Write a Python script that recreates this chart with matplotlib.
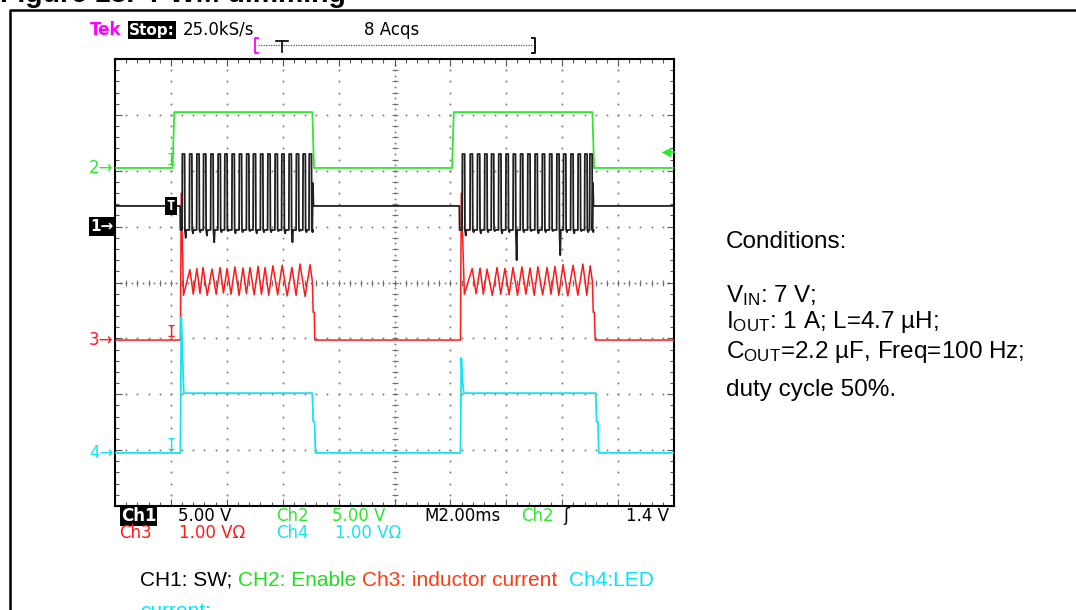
import numpy as np
import matplotlib
matplotlib.use('Agg')
import matplotlib.pyplot as plt
from matplotlib.ticker import MultipleLocator

# ---------------- data (time in ms, values in channel units) ----------------
ms_per_div = 2.0
# channel scale (units/div) and ground position (div from bottom)
ch1_scale, ch1_gnd = 5.0, 5.0     # SW, volts
ch2_scale, ch2_gnd = 5.0, 6.05    # Enable, volts
ch3_scale, ch3_gnd = 1.0, 2.97    # inductor current, A
ch4_scale, ch4_gnd = 1.0, 0.95    # LED current, A

trig_t = 2.0          # ms
trig_level = 1.4      # V on Ch2

# CH2: enable
ch2_t = [0.0, 2.06, 2.12, 7.06, 7.12, 12.06, 12.12, 17.08, 17.14, 20.0]
ch2_v = [0.0, 0.0, 5.0, 5.0, 0.0, 0.0, 5.0, 5.0, 0.0, 0.0]

# CH1: switch node
ch1_idle = 1.85
ch1_high = 6.5
ch1_low = -0.3
burst1_start, burst1_end = 2.33, 7.08
burst2_start, burst2_end = 12.32, 17.10
burst1_on = [2.40, 2.66, 2.92, 3.16, 3.42, 3.68, 3.92, 4.18, 4.44, 4.70,
             4.94, 5.20, 5.46, 5.72, 5.96, 6.22, 6.48, 6.72, 6.94]
burst1_dip = [-1.0, -0.6, -0.5, -0.8, -1.4, -0.5, -0.4, -0.6, -0.5, -0.4,
              -0.6, -0.5, -0.5, -0.4, -0.6, -1.4, -0.4, -0.5, -0.5]
burst2_on = [12.42, 12.70, 12.96, 13.22, 13.46, 13.72, 13.98, 14.24, 14.50, 14.76,
             15.02, 15.28, 15.54, 15.80, 16.04, 16.30, 16.56, 16.80, 16.98]
burst2_dip = [-0.8, -0.5, -0.6, -0.5, -0.4, -0.6, -0.5, -3.0, -0.5, -0.4,
              -0.6, -0.5, -0.4, -2.55, -0.5, -0.6, -0.4, -0.5, -0.5]

# CH3: inductor current
ch3_t = [0.0,
         2.34, 2.37, 2.45, 2.68, 2.80, 2.93, 3.04, 3.15, 3.30, 3.47, 3.62, 3.76, 3.88,
         4.01, 4.15, 4.29, 4.44, 4.58, 4.70, 4.83, 4.98, 5.12, 5.24, 5.37, 5.50, 5.65,
         5.82, 5.98, 6.16, 6.33, 6.48, 6.62, 6.80, 6.98, 7.06, 7.09, 7.13, 7.15,
         12.36, 12.39, 12.50, 12.78, 12.92, 13.06, 13.18, 13.31, 13.50, 13.67, 13.80,
         13.95, 14.10, 14.24, 14.40, 14.56, 14.70, 14.85, 15.00, 15.13, 15.30, 15.46,
         15.60, 15.74, 15.88, 16.03, 16.20, 16.39, 16.56, 16.74, 16.88, 17.00, 17.08,
         17.11, 17.15, 17.18,
         20.0]
ch3_i = [0.0,
         0.00, 2.63, 0.80, 1.26, 0.82, 1.28, 0.83, 1.30, 0.80, 1.27, 0.82, 1.30, 0.84,
         1.28, 0.82, 1.31, 0.80, 1.29, 0.83, 1.30, 0.81, 1.32, 0.82, 1.30, 0.80, 1.33,
         0.81, 1.34, 0.79, 1.30, 0.80, 1.36, 0.78, 1.35, 1.05, 0.50, 0.50, 0.00,
         0.00, 2.63, 0.82, 1.28, 0.83, 1.29, 0.82, 1.27, 0.80, 1.30, 0.82,
         1.28, 0.81, 1.30, 0.80, 1.31, 0.82, 1.29, 0.80, 1.31, 0.81, 1.30,
         0.82, 1.32, 0.80, 1.35, 0.79, 1.34, 0.80, 1.36, 0.80, 1.33, 1.05,
         0.50, 0.50, 0.00,
         0.0]

# CH4: LED current
ch4_t = [0.0, 2.34, 2.37, 2.41, 2.46, 7.06, 7.09, 7.14, 7.17,
         12.36, 12.39, 12.43, 12.48, 17.20, 17.23, 17.28, 17.31, 20.0]
ch4_i = [0.0, 0.0, 2.43, 1.84, 1.07, 1.07, 0.56, 0.56, 0.0,
         0.0, 1.70, 1.30, 1.07, 1.07, 0.56, 0.56, 0.0, 0.0]

# ---------------- colours ----------------
C1, C2, C3, C4 = '#000000', '#2fe62f', '#ff1a1a', '#14e4f0'
MAG = '#ff00ff'

W, H = 1076, 610
fig = plt.figure(figsize=(W / 100, H / 100), dpi=100)
plt.rcParams['mathtext.fontset'] = 'custom'
plt.rcParams['mathtext.rm'] = 'Liberation Sans'
plt.rcParams['mathtext.it'] = 'Liberation Sans:italic'

# overlay in pixel coordinates
ov = fig.add_axes([0, 0, 1, 1])
ov.set_xlim(0, W)
ov.set_ylim(H, 0)
ov.axis('off')

# main oscilloscope axes
L, T, R, B = 115, 59, 674, 506
ax = fig.add_axes([L / W, 1 - B / H, (R - L) / W, (B - T) / H])
ax.set_facecolor('white')
ax.set_xlim(0, 10 * ms_per_div)
ax.set_ylim(0, 8)
for s in ax.spines.values():
    s.set_linewidth(1.5)
    s.set_color('black')
ax.xaxis.set_major_locator(MultipleLocator(ms_per_div))
ax.xaxis.set_minor_locator(MultipleLocator(ms_per_div / 5))
ax.yaxis.set_major_locator(MultipleLocator(1))
ax.yaxis.set_minor_locator(MultipleLocator(0.2))
ax.tick_params(which='both', direction='in', top=True, right=True,
               labelbottom=False, labelleft=False, color='#555555', width=0.8)
ax.tick_params(which='major', length=5)
ax.tick_params(which='minor', length=3)

gc = '#707070'
yy = np.arange(0.2, 8.0, 0.2)
for k in range(1, 10):
    if k == 5:
        continue
    ax.plot(np.full_like(yy, k * ms_per_div), yy, ls='none', marker='s', ms=1.2,
            mec='none', mfc=gc, zorder=1)
xx = np.arange(0.4, 20.0, 0.4)
for k in range(1, 8):
    if k == 4:
        continue
    ax.plot(xx, np.full_like(xx, k), ls='none', marker='s', ms=1.2,
            mec='none', mfc=gc, zorder=1)
# centre lines
yc = np.arange(0.1, 8.0, 0.1)
ax.plot(np.full_like(yc, 10.0), yc, ls='none', marker='s', ms=1.2, mec='none', mfc=gc, zorder=1)
xc = np.arange(0.2, 20.0, 0.2)
ax.plot(xc, np.full_like(xc, 4.0), ls='none', marker='s', ms=1.2, mec='none', mfc=gc, zorder=1)
ax.plot(np.full_like(yy, 10.0), yy, ls='none', marker='_', ms=5, mew=0.8, mec=gc, zorder=1)
ax.plot(xx, np.full_like(xx, 4.0), ls='none', marker='|', ms=5, mew=0.8, mec=gc, zorder=1)


def to_div(vals, scale, gnd):
    return gnd + np.asarray(vals, dtype=float) / scale


# build CH1 from bursts
def burst_trace(start, end, ons, dips):
    t = [start, start + 0.01]
    v = [ch1_idle, ch1_low]
    for on, dip in zip(ons, dips):
        t += [on, on + 0.01, on + 0.09, on + 0.10, on + 0.13, on + 0.15]
        v += [ch1_low, ch1_high, ch1_high, ch1_low, dip, ch1_low]
    t += [end - 0.02, end, end + 0.02]
    v += [ch1_low, ch1_high * 0.6, ch1_idle]
    return t, v


b1t, b1v = burst_trace(burst1_start, burst1_end, burst1_on, burst1_dip)
b2t, b2v = burst_trace(burst2_start, burst2_end, burst2_on, burst2_dip)
ch1_t = [0.0] + b1t + b2t + [20.0]
ch1_v = [ch1_idle] + b1v + b2v + [ch1_idle]

ax.plot(ch2_t, to_div(ch2_v, ch2_scale, ch2_gnd), color=C2, lw=1.3, zorder=3)
ax.plot(ch1_t, to_div(ch1_v, ch1_scale, ch1_gnd), color='#202020', lw=1.3, zorder=4)
ax.plot(ch3_t, to_div(ch3_i, ch3_scale, ch3_gnd), color=C3, lw=1.1, zorder=3)
ax.plot(ch4_t, to_div(ch4_i, ch4_scale, ch4_gnd), color=C4, lw=1.3, zorder=3)

# trigger position markers
mono = 'DejaVu Sans Mono'
for col, gnd in [(C2, ch2_gnd), (C3, ch3_gnd), (C4, ch4_gnd)]:
    ax.text(trig_t, gnd, 'I', color=col, fontsize=11, family=mono, ha='center',
            va='bottom', zorder=5)
ax.text(trig_t, ch1_gnd + ch1_idle / ch1_scale, 'T', color='white', fontsize=10, family=mono,
        fontweight='bold', ha='center', va='center', zorder=6,
        bbox=dict(boxstyle='square,pad=0.12', fc='black', ec='none'))
# trigger level arrow (right)
lvl = ch2_gnd + trig_level / ch2_scale
ax.plot([19.72, 20.0], [lvl, lvl], color=C2, lw=1.2, clip_on=False, zorder=6)
ax.plot([19.72], [lvl], marker='<', ms=7, color=C2, mec='none', clip_on=False, zorder=6)

# ground markers on the left
scope = 'DejaVu Sans'
for lab, col, gnd in [('2', C2, ch2_gnd), ('3', C3, ch3_gnd), ('4', C4, ch4_gnd)]:
    ax.text(-0.05, gnd, lab + '\u2192', color=col, fontsize=12, family=scope,
            ha='right', va='center', clip_on=False)
ax.text(-0.05, ch1_gnd, '1\u2192', color='white', fontsize=11, family=scope, fontweight='bold',
        ha='right', va='center', clip_on=False,
        bbox=dict(boxstyle='square,pad=0.12', fc='black', ec='none'))

# ---------------- overlay texts ----------------
# outer frame
ov.plot([10, 10, W], [H + 5, 10, 10], color='black', lw=1.8, clip_on=False,
        solid_capstyle='projecting')
ov.text(0, 2, 'Figure 13.  PWM dimming', fontsize=20.5, fontweight='bold',
        family='Liberation Sans', va='baseline', ha='left')

fs = 12
ov.text(90, 30, 'Tek', color=MAG, fontsize=fs, family=scope, fontweight='bold', va='center')
ov.text(129, 30, 'Stop:', color='white', fontsize=fs - 1, family=scope, fontweight='bold',
        va='center', bbox=dict(boxstyle='square,pad=0.08', fc='black', ec='none'))
ov.text(183, 30, '25.0kS/s', color='black', fontsize=fs, family=scope, va='center')
ov.text(364, 30, '8 Acqs', color='black', fontsize=fs, family=scope, va='center')
# record bracket
ov.plot([258, 255, 255, 258], [38, 38, 53, 53], color=MAG, lw=1.3)
ov.plot([532, 535, 535, 532], [38, 38, 53, 53], color='black', lw=1.3)
ov.plot([258, 532], [45, 45], color='#555555', lw=0.9, ls=(0, (1, 1)))
ov.plot([276, 288], [41, 41], color='black', lw=1.2)
ov.plot([282, 282], [41, 52], color='black', lw=1.2)

# bottom readouts
r1, r2 = 516, 533
ov.text(121, r1, 'Ch1', color='white', fontsize=fs, family=scope, fontweight='bold', va='center',
        bbox=dict(boxstyle='square,pad=0.05', fc='black', ec='none'))
ov.text(178, r1, '5.00 V', color='black', fontsize=fs, family=scope, va='center')
ov.text(276, r1, 'Ch2', color=C2, fontsize=fs, family=scope, va='center')
ov.text(332, r1, '5.00 V', color=C2, fontsize=fs, family=scope, va='center')
ov.text(424, r1, 'M2.00ms', color='black', fontsize=fs, family=scope, va='center')
ov.text(521, r1, 'Ch2', color=C2, fontsize=fs, family=scope, va='center')
ov.text(566, r1, '\u0283', color='black', fontsize=fs, family=scope, va='center', ha='center')
ov.text(669, r1, '1.4 V', color='black', fontsize=fs, family=scope, va='center', ha='right')
ov.text(119, r2, 'Ch3', color=C3, fontsize=fs, family=scope, va='center')
ov.text(179, r2, '1.00 V\u03a9', color=C3, fontsize=fs, family=scope, va='center')
ov.text(276, r2, 'Ch4', color=C4, fontsize=fs, family=scope, va='center')
ov.text(335, r2, '1.00 V\u03a9', color=C4, fontsize=fs, family=scope, va='center')

# caption
cap_fs = 15
cf = 'Liberation Sans'
t0 = ov.text(140, 586, 'CH1: SW; ', color='black', fontsize=cap_fs, family=cf, va='baseline')
prev = t0
for s, col in [('CH2: Enable ', '#22dd22'), ('Ch3: inductor current  ', '#ff3a14'),
               ('Ch4:LED', '#00e5ff')]:
    prev = ov.annotate(s, xy=(1, 0), xycoords=prev, va='bottom', ha='left', color=col,
                       fontsize=cap_fs, family=cf)
ov.text(140, 617, 'current:', color='#00e5ff', fontsize=cap_fs, family=cf, va='baseline')

# conditions
cfs = 17.5
cx = 726
ov.text(cx, 248, 'Conditions:', fontsize=cfs, family=cf, va='baseline')
ov.text(cx, 302, r'V$_{\mathrm{IN}}$: 7 V;', fontsize=cfs, family=cf, va='baseline')
ov.text(cx, 328, 'I$_{\\mathrm{OUT}}$: 1 A; L=4.7 \u00b5H;',
        fontsize=cfs, family=cf, va='baseline')
ov.text(cx, 358, 'C$_{\\mathrm{OUT}}$=2.2 \u00b5F, Freq=100 Hz;', fontsize=cfs, family=cf,
        va='baseline')
ov.text(cx, 396, 'duty cycle 50%.', fontsize=cfs, family=cf, va='baseline')

fig.savefig('out.png', dpi=100)
